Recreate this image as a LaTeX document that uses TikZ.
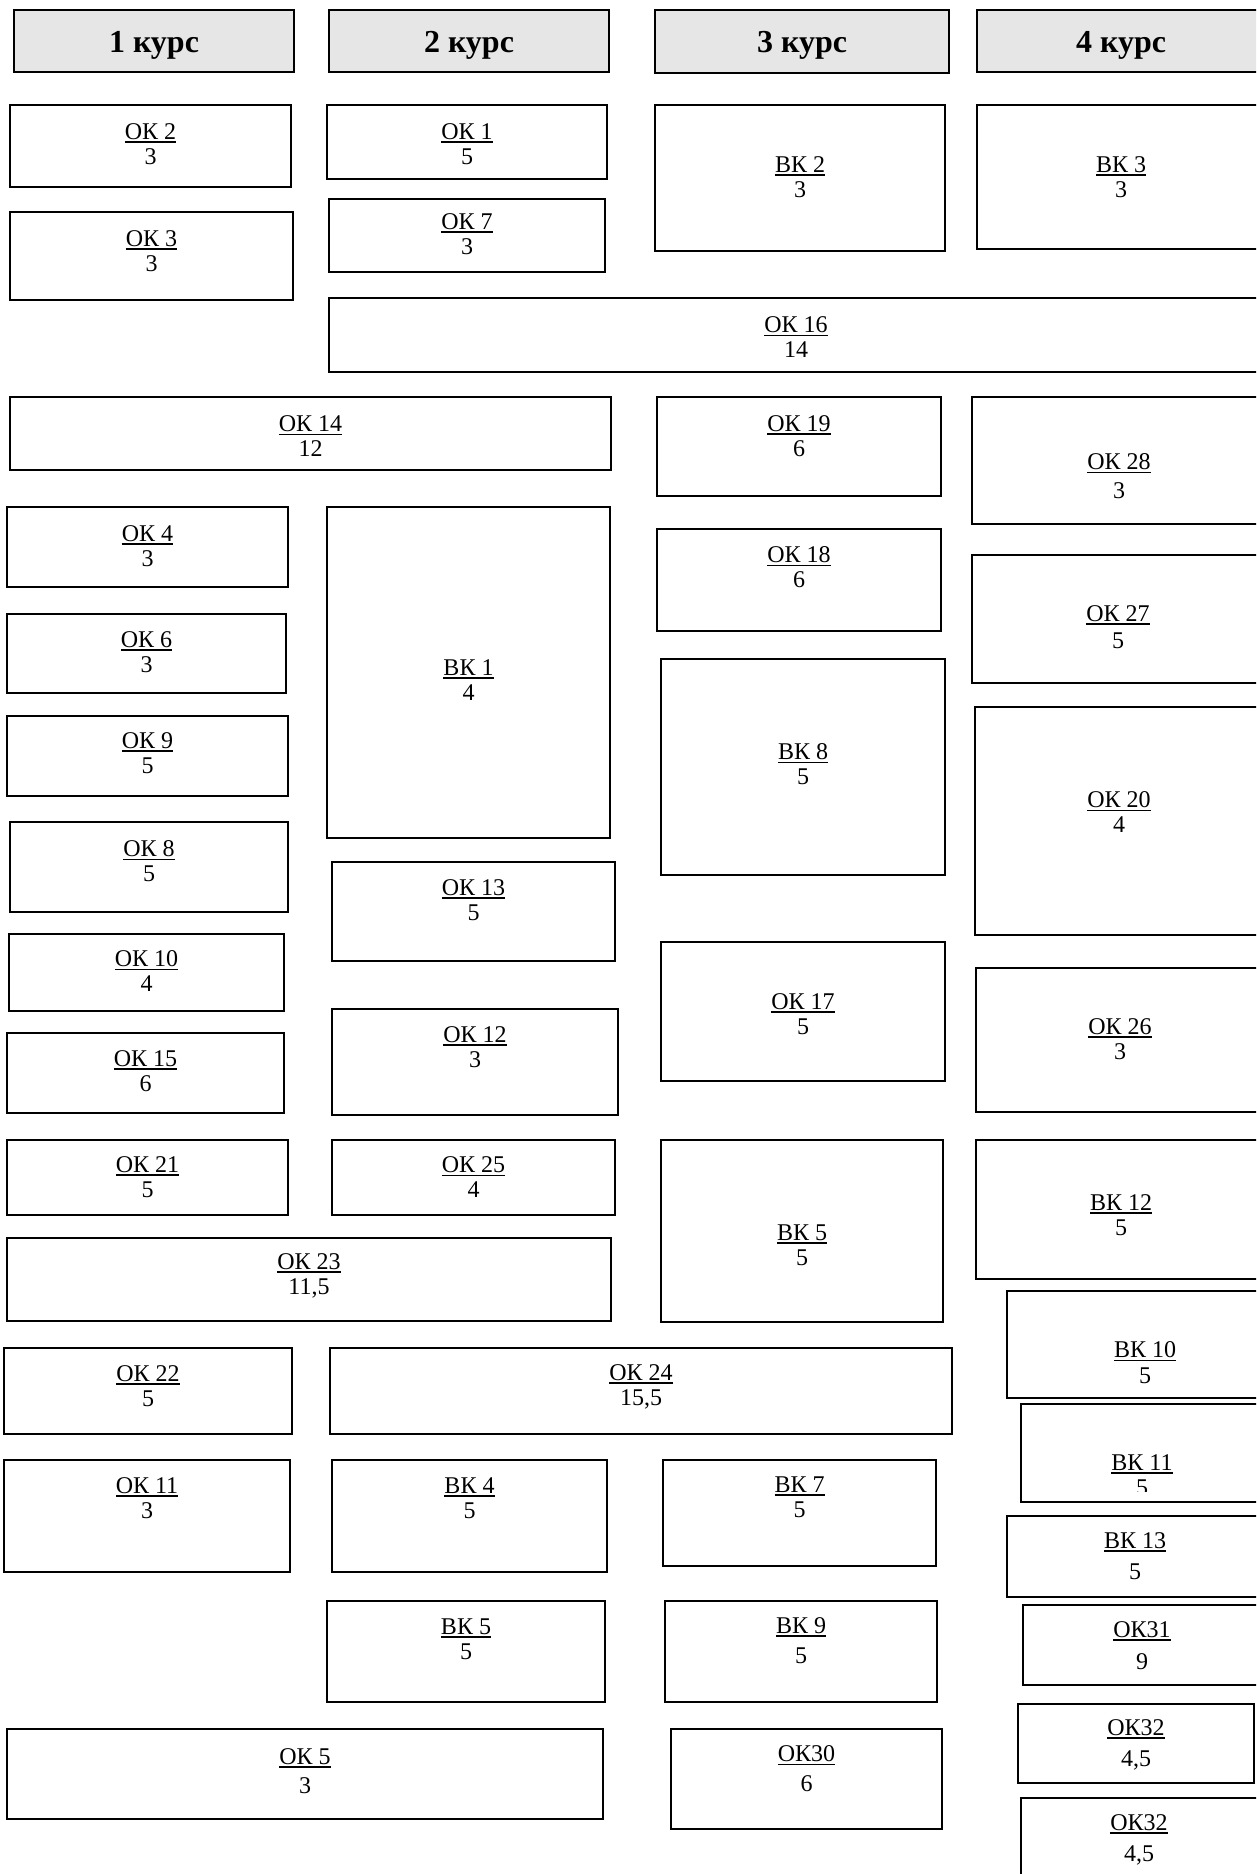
\documentclass[tikz,border=0pt]{standalone}
\usepackage{fontspec}
\setmainfont{Liberation Serif}
\definecolor{grisKurs}{HTML}{E6E6E6}
\newcommand{\kod}[1]{\leavevmode\vtop{\hbox{#1}\kern1.4pt\hrule height 1.8pt}}

\begin{document}
\begin{tikzpicture}[x=1pt, y=-1pt,
        disc/.style={draw, line width=2pt},
        kurs/.style={draw, line width=2pt, fill=grisKurs},
        txt/.style={font=\fontsize{24}{25}\selectfont, align=center, inner sep=0pt},
        ktxt/.style={font=\fontsize{32}{36}\selectfont\bfseries, anchor=base, inner sep=0pt}]
    \useasboundingbox (0,0) rectangle (1256,1874);
    \clip (0,0) rectangle (1256,1874);
    \draw[kurs] (14,10)  rectangle (294,72)  node[ktxt] (k1) at (154,52)  {1 курс};
    \draw[kurs] (329,10) rectangle (609,72)  node[ktxt] (k2) at (469,52)  {2 курс};
    \draw[kurs] (655,10) rectangle (949,73)  node[ktxt] (k3) at (802,52)  {3 курс};
    \draw[kurs] (977,10) rectangle (1262,72) node[ktxt] (k4) at (1121,52) {4 курс};

    \draw[disc] (10,105)  rectangle (291,187)  node[txt] (ok2)  at (150.5,144.5) {\kod{ОК 2}\\3};
    \draw[disc] (10,212)  rectangle (293,300)  node[txt] (ok3)  at (151.5,251.5) {\kod{ОК 3}\\3};
    \draw[disc] (10,397)  rectangle (611,470)  node[txt] (ok14) at (310.5,436.5) {\kod{ОК 14}\\12};
    \draw[disc] (7,507)   rectangle (288,587)  node[txt] (ok4)  at (147.5,546.5) {\kod{ОК 4}\\3};
    \draw[disc] (7,614)   rectangle (286,693)  node[txt] (ok6)  at (146.5,652.5) {\kod{ОК 6}\\3};
    \draw[disc] (7,716)   rectangle (288,796)  node[txt] (ok9)  at (147.5,753.5) {\kod{ОК 9}\\5};
    \draw[disc] (10,822)  rectangle (288,912)  node[txt] (ok8)  at (149,861.5)   {\kod{ОК 8}\\5};
    \draw[disc] (9,934)   rectangle (284,1011) node[txt] (ok10) at (146.5,971.5) {\kod{ОК 10}\\4};
    \draw[disc] (7,1033)  rectangle (284,1113) node[txt] (ok15) at (145.5,1071.5) {\kod{ОК 15}\\6};
    \draw[disc] (7,1140)  rectangle (288,1215) node[txt] (ok21) at (147.5,1177.5) {\kod{ОК 21}\\5};
    \draw[disc] (7,1238)  rectangle (611,1321) node[txt] (ok23) at (309,1275.5) {\kod{ОК 23}\\11,5};
    \draw[disc] (4,1348)  rectangle (292,1434) node[txt] (ok22) at (148,1386.5) {\kod{ОК 22}\\5};
    \draw[disc] (4,1460)  rectangle (290,1572) node[txt] (ok11) at (147,1498.5) {\kod{ОК 11}\\3};
    \draw[disc] (7,1729)  rectangle (603,1819) node[txt] (ok5)  at (305,1771.5) {\kod{ОК 5}\\[4pt]3};

    \draw[disc] (327,105)  rectangle (607,179)  node[txt] (ok1)  at (467,144.5)  {\kod{ОК 1}\\5};
    \draw[disc] (329,199)  rectangle (605,272)  node[txt] (ok7)  at (467,234.5)  {\kod{ОК 7}\\3};
    \draw[disc] (329,298)  rectangle (1262,372) node[txt] (ok16) at (796,337.5)  {\kod{ОК 16}\\14};
    \draw[disc] (327,507)  rectangle (610,838)  node[txt] (bk1)  at (468.5,680.5) {\kod{ВК 1}\\4};
    \draw[disc] (332,862)  rectangle (615,961)  node[txt] (ok13) at (473.5,900.5) {\kod{ОК 13}\\5};
    \draw[disc] (332,1009) rectangle (618,1115) node[txt] (ok12) at (475,1047.5) {\kod{ОК 12}\\3};
    \draw[disc] (332,1140) rectangle (615,1215) node[txt] (ok25) at (473.5,1177.5) {\kod{ОК 25}\\4};
    \draw[disc] (330,1348) rectangle (952,1434) node[txt] (ok24) at (641,1386.5) {\kod{ОК 24}\\15,5};
    \draw[disc] (332,1460) rectangle (607,1572) node[txt] (bk4)  at (469.5,1498.5) {\kod{ВК 4}\\5};
    \draw[disc] (327,1601) rectangle (605,1702) node[txt] (bk5a) at (466,1639.5) {\kod{ВК 5}\\5};

    \draw[disc] (655,105)  rectangle (945,251)  node[txt] (bk2)  at (800,177.5)  {\kod{ВК 2}\\3};
    \draw[disc] (657,397)  rectangle (941,496)  node[txt] (ok19) at (799,436.5)  {\kod{ОК 19}\\6};
    \draw[disc] (657,529)  rectangle (941,631)  node[txt] (ok18) at (799,567.5)  {\kod{ОК 18}\\6};
    \draw[disc] (661,659)  rectangle (945,875)  node[txt] (bk8)  at (803,764.5)  {\kod{ВК 8}\\5};
    \draw[disc] (661,942)  rectangle (945,1081) node[txt] (ok17) at (803,1014.5) {\kod{ОК 17}\\5};
    \draw[disc] (661,1140) rectangle (943,1322) node[txt] (bk5b) at (802,1245.5) {\kod{ВК 5}\\5};
    \draw[disc] (663,1460) rectangle (936,1566) node[txt] (bk7)  at (799.5,1497.5) {\kod{ВК 7}\\5};
    \draw[disc] (665,1601) rectangle (937,1702) node[txt] (bk9)  at (801,1641)   {\kod{ВК 9}\\[5pt]5};
    \draw[disc] (671,1729) rectangle (942,1829) node[txt] (ok30) at (806.5,1769) {\kod{ОК30}\\[5pt]6};

    \draw[disc] (977,105)   rectangle (1262,249)  node[txt] (bk3)  at (1121,177.5)  {\kod{ВК 3}\\3};
    \draw[disc] (972,397)   rectangle (1262,524)  node[txt] (ok28) at (1119,476.5)  {\kod{ОК 28}\\[4pt]3};
    \draw[disc] (972,555)   rectangle (1262,683)  node[txt] (ok27) at (1118,627.5)  {\kod{ОК 27}\\[2pt]5};
    \draw[disc] (975,707)   rectangle (1262,935)  node[txt] (ok20) at (1119,812.5)  {\kod{ОК 20}\\4};
    \draw[disc] (976,968)   rectangle (1262,1112) node[txt] (ok26) at (1120,1039.5) {\kod{ОК 26}\\3};
    \draw[disc] (976,1140)  rectangle (1262,1279) node[txt] (bk12) at (1121,1215.5) {\kod{ВК 12}\\5};
    \draw[disc] (1007,1291) rectangle (1262,1398) node[txt] (bk10) at (1145,1363)   {\kod{ВК 10}\\[1pt]5};
    \begin{scope}
        \clip (1021,1404) rectangle (1262,1491);
        \node[txt] (bk11) at (1142,1475.5) {\kod{ВК 11}\\5};
    \end{scope}
    \draw[disc] (1021,1404) rectangle (1262,1502);
    \draw[disc] (1007,1516) rectangle (1262,1597) node[txt] (bk13)  at (1135,1556.5) {\kod{ВК 13}\\[6pt]5};
    \draw[disc] (1023,1605) rectangle (1262,1685) node[txt] (ok31)  at (1142,1646)   {\kod{ОК31}\\[7pt]9};
    \draw[disc] (1018,1704) rectangle (1254,1783) node[txt] (ok32a) at (1136,1745)   {\kod{ОК32}\\[6pt]4,5};
    \draw[disc] (1021,1798) rectangle (1262,1900) node[txt] (ok32b) at (1139,1839.5) {\kod{ОК32}\\[6pt]4,5};
\end{tikzpicture}
\end{document}
